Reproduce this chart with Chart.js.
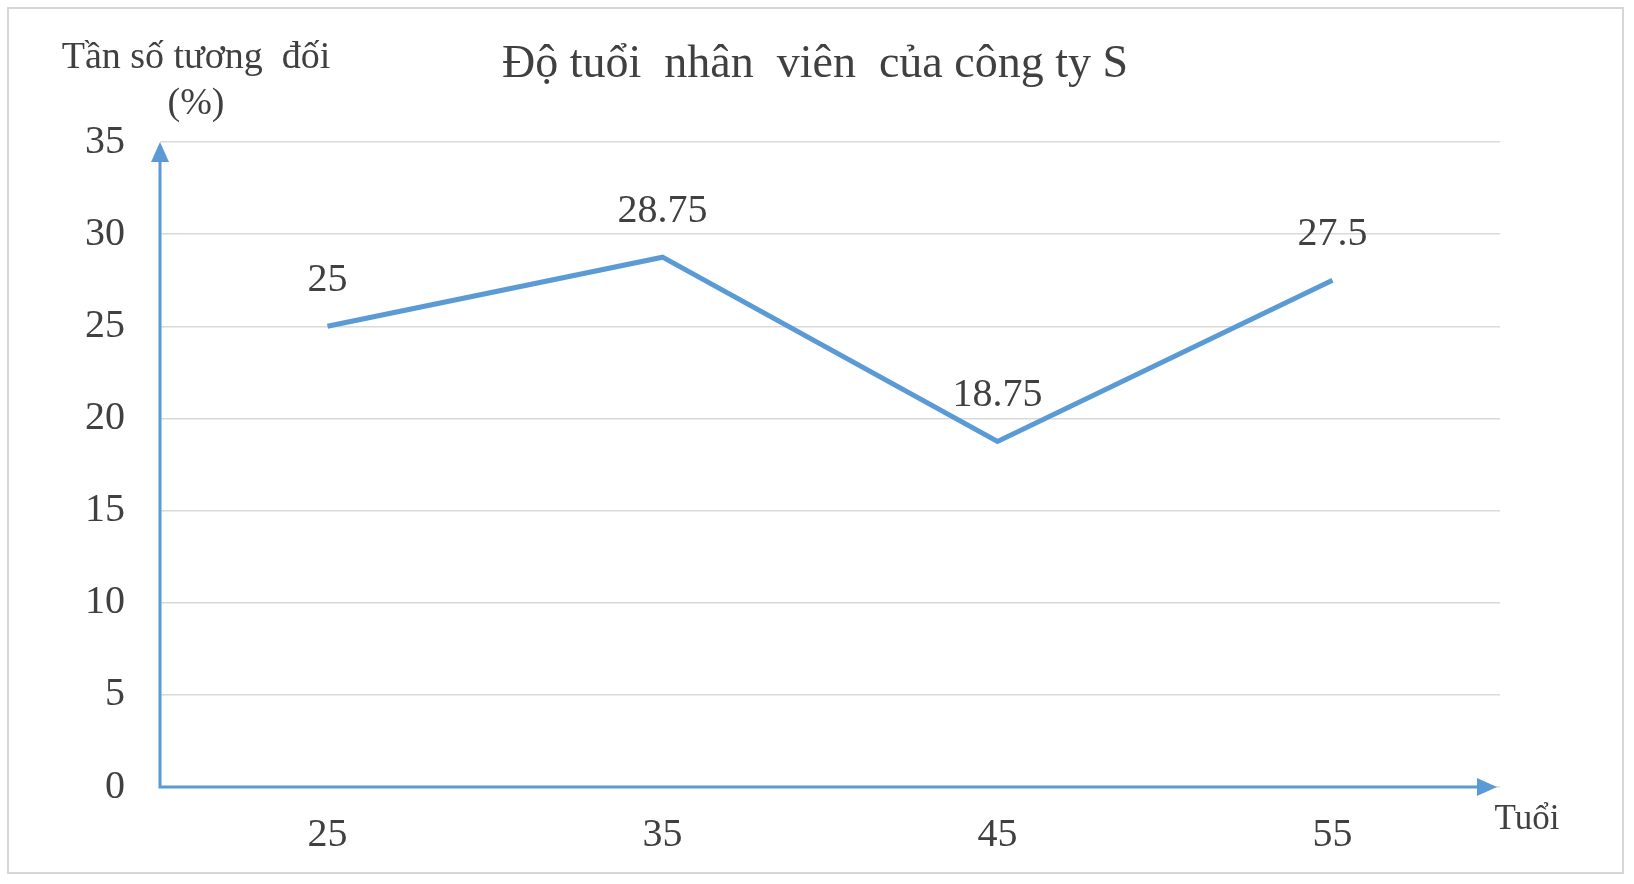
<!DOCTYPE html>
<html>
<head>
<meta charset="utf-8">
<style>
  body { margin: 0; background: #fff; }
  canvas { display: block; }
</style>
<script src="https://cdn.jsdelivr.net/npm/chart.js@4"></script>
</head>
<body>
<canvas id="ageChart" width="1634" height="884"></canvas>
<script>
const ages = ['25', '35', '45', '55'];
const relFreq = [25, 28.75, 18.75, 27.5];
const yTicks = [0, 5, 10, 15, 20, 25, 30, 35];

const chartTitle = 'Độ tuổi  nhân  viên  của công ty S';
const yTitle = ['Tần số tương  đối', '(%)'];
const xTitle = 'Tuổi';

const blue = '#5B9BD5';
const textColor = '#404040';
const serif = '"Liberation Serif", "Times New Roman", serif';

// white background + light frame round the picture
const framePlugin = {
  id: 'frame',
  beforeDraw(chart) {
    const ctx = chart.ctx;
    ctx.save();
    ctx.fillStyle = '#fff';
    ctx.fillRect(0, 0, chart.width, chart.height);
    ctx.strokeStyle = '#D6D6D6';
    ctx.lineWidth = 2;
    ctx.strokeRect(8, 8, chart.width - 19, chart.height - 19);
    ctx.restore();
  }
};

// axis lines with arrow heads, value labels and titles
const decorPlugin = {
  id: 'decor',
  afterDatasetsDraw(chart) {
    const ctx = chart.ctx;
    const area = chart.chartArea;
    const x0 = area.left, y0 = chart.scales.y.getPixelForValue(0);
    const xEnd = area.right - 3, yEnd = area.top;

    ctx.save();
    ctx.strokeStyle = blue;
    ctx.fillStyle = blue;
    ctx.lineWidth = 3;
    ctx.beginPath();
    ctx.moveTo(x0, yEnd + 18);
    ctx.lineTo(x0, y0);
    ctx.lineTo(xEnd - 18, y0);
    ctx.stroke();
    // y arrow
    ctx.beginPath();
    ctx.moveTo(x0, yEnd);
    ctx.lineTo(x0 - 9, yEnd + 20);
    ctx.lineTo(x0 + 9, yEnd + 20);
    ctx.closePath();
    ctx.fill();
    // x arrow
    ctx.beginPath();
    ctx.moveTo(xEnd, y0);
    ctx.lineTo(xEnd - 20, y0 - 9);
    ctx.lineTo(xEnd - 20, y0 + 9);
    ctx.closePath();
    ctx.fill();

    // value labels above the points
    ctx.fillStyle = textColor;
    ctx.font = '40px ' + serif;
    ctx.textAlign = 'center';
    ctx.textBaseline = 'middle';
    const meta = chart.getDatasetMeta(0);
    meta.data.forEach((pt, i) => {
      ctx.fillText(String(relFreq[i]), pt.x, pt.y - 46);
    });

    // chart title
    ctx.font = '46px ' + serif;
    ctx.fillText(chartTitle, chart.width / 2 - 2, 65);

    // y axis title
    ctx.font = '38px ' + serif;
    ctx.fillText(yTitle[0], 196, 58);
    ctx.fillText(yTitle[1], 196, 104);

    // x axis title
    ctx.font = '35px ' + serif;
    ctx.fillText(xTitle, 1527, 820);
    ctx.restore();
  }
};

new Chart(document.getElementById('ageChart'), {
  type: 'line',
  data: {
    labels: ages,
    datasets: [{
      data: relFreq,
      borderColor: blue,
      borderWidth: 5,
      pointRadius: 0,
      tension: 0,
      fill: false
    }]
  },
  options: {
    responsive: false,
    animation: false,
    layout: { padding: { top: 142, right: 134, left: 0, bottom: 0 } },
    plugins: {
      legend: { display: false },
      title: { display: false },
      tooltip: { enabled: false }
    },
    scales: {
      x: {
        offset: true,
        grid: { display: false, drawTicks: false },
        border: { display: false },
        ticks: {
          color: textColor,
          font: { family: serif, size: 40 },
          padding: 24
        },
        afterFit(scale) { scale.height = 97; }
      },
      y: {
        min: 0,
        max: 35,
        afterBuildTicks(scale) { scale.ticks = yTicks.map(v => ({ value: v })); },
        grid: { color: '#D9D9D9', lineWidth: 1.5, drawTicks: false },
        border: { display: false },
        ticks: {
          color: textColor,
          font: { family: serif, size: 40 },
          padding: 35
        },
        afterFit(scale) { scale.width = 160; }
      }
    }
  },
  plugins: [framePlugin, decorPlugin]
});
</script>
</body>
</html>
